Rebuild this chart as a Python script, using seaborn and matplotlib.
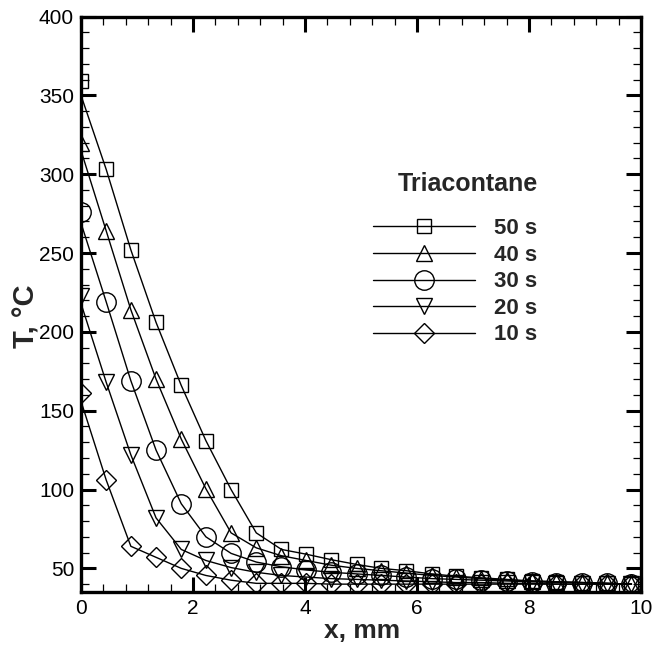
import numpy as np
import pandas as pd
import matplotlib
matplotlib.use("Agg")
import matplotlib.pyplot as plt
from matplotlib.lines import Line2D
from matplotlib.ticker import MultipleLocator
import seaborn as sns

# ---- data ----
x_mm = [0.0, 0.45, 0.89, 1.34, 1.79, 2.23, 2.68, 3.13, 3.58, 4.02, 4.47, 4.92,
        5.36, 5.81, 6.26, 6.70, 7.15, 7.60, 8.05, 8.49, 8.94, 9.39, 9.83]
labels = ["50 s", "40 s", "30 s", "20 s", "10 s"]
legend_title = "Triacontane"
T_50s = [359, 303, 252, 206, 166, 131, 100, 72.5, 62, 59, 55.5, 52.5, 50, 48.5,
         46.5, 45, 44, 43, 42, 41.5, 41, 40.5, 40]
T_40s = [320, 264, 214, 170, 132, 100.5, 72.5, 63, 58, 55, 52, 50, 48.5, 47,
         45.5, 44.5, 43.5, 42.5, 42, 41.5, 41, 40.5, 40]
T_30s = [276, 219, 169, 125, 91, 70, 59.5, 54, 51, 49, 47.5, 46.5, 45.5, 44.5,
         43.5, 43, 42.5, 42, 41.5, 41, 41, 40.5, 40]
T_20s = [223, 168, 122, 82, 62, 55, 50.5, 47.5, 45.5, 44.5, 43.5, 43, 42.5, 42,
         41.5, 41, 41, 40.5, 40.5, 40, 40, 40, 40]
T_10s = [161, 106, 64, 57, 50, 45.5, 42.5, 40.5, 40.5, 40.5, 40, 40, 40, 40,
         40, 40, 40, 40, 40, 40, 40, 40, 40]
# curve values at x = 0 (the solid lines start slightly below the first symbol)
line_start = [350, 315, 269, 218, 156]

series = [T_50s, T_40s, T_30s, T_20s, T_10s]
markers = ["s", "^", "o", "v", "D"]
msizes = [9.5, 11.5, 14, 11.5, 10.5]

sns.set_theme(style="ticks")
plt.rcParams["font.family"] = ["Liberation Sans", "DejaVu Sans"]

fig = plt.figure(figsize=(6.63, 6.5), dpi=100)
ax = fig.add_axes([0.1222, 0.0892, 0.8446, 0.8854])

for lab, vals, st, mk, ms in zip(labels, series, line_start, markers, msizes):
    line_vals = [st] + vals[1:]
    dfl = pd.DataFrame({"x": x_mm, "T": line_vals})
    sns.lineplot(data=dfl, x="x", y="T", ax=ax, color="black", lw=1.0,
                 sort=False, legend=False)
    dfm = pd.DataFrame({"x": x_mm, "T": vals})
    sns.lineplot(data=dfm, x="x", y="T", ax=ax, color="black", linestyle="none",
                 marker=mk, markersize=ms, markerfacecolor="none",
                 markeredgecolor="black", markeredgewidth=1.0, sort=False,
                 legend=False)

ax.set_xlim(0, 10)
ax.set_ylim(35, 400)
ax.xaxis.set_major_locator(MultipleLocator(2))
ax.xaxis.set_minor_locator(MultipleLocator(0.4))
ax.yaxis.set_major_locator(MultipleLocator(50))
ax.yaxis.set_minor_locator(MultipleLocator(10))
ax.set_yticks([50, 100, 150, 200, 250, 300, 350, 400])

for s in ax.spines.values():
    s.set_linewidth(2.4)
    s.set_color("black")
ax.tick_params(which="major", direction="in", length=11, width=2.2,
               top=True, right=True, labelsize=15, pad=5, colors="black")
ax.tick_params(which="minor", direction="in", length=6, width=0.9,
               top=True, right=True, colors="black")

ax.set_xlabel("x, mm", fontsize=19, fontweight="bold")
ax.set_ylabel("T, °C", fontsize=21, fontweight="bold")
ax.xaxis.set_label_coords(0.502, -0.047)
ax.yaxis.set_label_coords(-0.072, 0.48)

handles = [Line2D([], [], color="black", lw=1.0, marker=mk, markersize=ms,
                  markerfacecolor="none", markeredgecolor="black",
                  markeredgewidth=1.0)
           for mk, ms in zip(markers, msizes)]
leg = ax.legend(handles, labels, frameon=False,
                loc="upper left", bbox_to_anchor=(0.505, 0.665),
                prop={"weight": "bold", "size": 16},
                handlelength=4.6, handletextpad=0.85, labelspacing=0.25,
                numpoints=1, borderaxespad=0)
ax.text(0.816, 0.709, legend_title, transform=ax.transAxes, ha="right",
        va="center", fontsize=18, fontweight="bold")

fig.savefig("out.png", dpi=100)
